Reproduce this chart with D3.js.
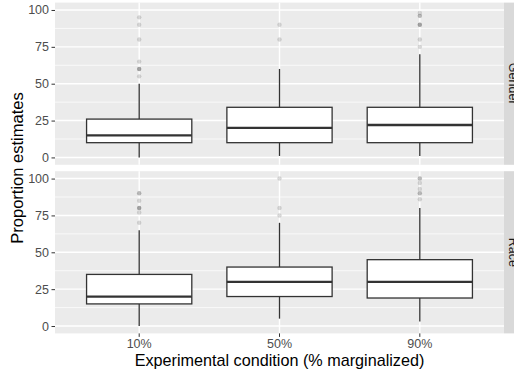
<!DOCTYPE html>
<html>
<head>
<meta charset="utf-8">
<script src="https://cdn.jsdelivr.net/npm/d3@7"></script>
<style>
body { margin: 0; background: #fff; }
svg { display: block; font-family: "Liberation Sans", Arial, sans-serif; }
</style>
</head>
<body>
<svg id="chart" width="514" height="373"></svg>
<script>
// categories and facets
var conditions = ["10%", "50%", "90%"];
var facets = ["Gender", "Race"];
var yTicks = [0, 25, 50, 75, 100];
var yMinor = [12.5, 37.5, 62.5, 87.5];

// box stats per facet: [lowerWhisker, q1, median, q3, upperWhisker]
var genderStats = [[0, 10, 15, 26, 50], [1, 10, 20, 34, 60], [1, 10, 22, 34, 70]];
var raceStats = [[0, 15, 20, 35, 65], [5, 20, 30, 40, 70], [3, 19, 30, 45, 80]];

// outliers: [value, number of overlapping points]
var genderOutliers = [
    [[95, 1], [90, 1], [80, 1], [65, 1], [60, 3], [55, 1]],
    [[90, 1], [80, 1]],
    [[98, 1], [96, 2], [90, 3], [80, 1], [75, 1]]
];
var raceOutliers = [
    [[90, 2], [85, 1], [80, 3], [77, 1], [70, 1]],
    [[100, 1], [80, 1], [75, 1]],
    [[100, 2], [97, 1], [93, 1], [90, 2], [86, 1]]
];

var statsByFacet = [genderStats, raceStats];
var outliersByFacet = [genderOutliers, raceOutliers];

var svg = d3.select("#chart");

//Define panel boundaries
var left = 55, right = 504, stripW = 21;
var panelTops = [2.6, 171.2], panelH = 162.2;

// ggplot discrete expansion: 0.6 units each side
var x = d3.scalePoint()
    .domain(conditions)
    .range([left, right])
    .padding(0.6);
var unit = x.step();
function cx(d) { return x(d); }
var boxW = unit * 0.75;

facets.forEach(function (facet, fi) {
    var top = panelTops[fi];
    var y = d3.scaleLinear()
        .domain([-5, 105])
        .range([top + panelH, top]);

    var g = svg.append("g");

    g.append("rect")
        .attr("x", left).attr("y", top)
        .attr("width", right - left).attr("height", panelH)
        .attr("fill", "#ebebeb");

    //minor grid
    g.selectAll(".minor").data(yMinor).enter().append("line")
        .attr("x1", left).attr("x2", right)
        .attr("y1", function (d) { return y(d); })
        .attr("y2", function (d) { return y(d); })
        .attr("stroke", "#fff").attr("stroke-width", 0.7);

    //major grid
    g.selectAll(".major").data(yTicks).enter().append("line")
        .attr("x1", left).attr("x2", right)
        .attr("y1", function (d) { return y(d); })
        .attr("y2", function (d) { return y(d); })
        .attr("stroke", "#fff").attr("stroke-width", 1.4);

    g.selectAll(".vmajor").data(conditions).enter().append("line")
        .attr("x1", cx).attr("x2", cx)
        .attr("y1", top).attr("y2", top + panelH)
        .attr("stroke", "#fff").attr("stroke-width", 1.4);

    //y axis
    var axis = g.append("g")
        .attr("transform", "translate(" + left + ",0)")
        .call(d3.axisLeft(y).tickValues(yTicks).tickSize(3.5).tickPadding(2.5));
    axis.select(".domain").remove();
    axis.selectAll(".tick line").attr("stroke", "#333").attr("stroke-width", 1);
    axis.selectAll(".tick text").attr("fill", "#4d4d4d")
        .style("font-family", "Liberation Sans, Arial, sans-serif")
        .style("font-size", "12.5px");

    //strip
    g.append("rect")
        .attr("x", right).attr("y", top)
        .attr("width", stripW).attr("height", panelH)
        .attr("fill", "#d9d9d9");
    g.append("text")
        .attr("transform", "translate(" + (right + stripW / 2 - 1) + "," + (top + panelH / 2) + ") rotate(90)")
        .attr("text-anchor", "middle")
        .attr("dy", "0.35em")
        .attr("fill", "#1a1a1a")
        .style("font-size", "12.5px")
        .text(facet);

    var stats = statsByFacet[fi];
    var outs = outliersByFacet[fi];

    conditions.forEach(function (c, ci) {
        var s = stats[ci];
        var xc = cx(c);
        var bg = g.append("g");

        // outliers
        bg.selectAll("circle").data(outs[ci]).enter().append("circle")
            .attr("cx", xc)
            .attr("cy", function (d) { return y(d[0]); })
            .attr("r", 2.2)
            .attr("fill", "#333")
            .attr("fill-opacity", function (d) { return 1 - Math.pow(0.82, d[1]); });

        // whiskers
        bg.append("line")
            .attr("x1", xc).attr("x2", xc)
            .attr("y1", y(s[4])).attr("y2", y(s[3]))
            .attr("stroke", "#333").attr("stroke-width", 1.3);
        bg.append("line")
            .attr("x1", xc).attr("x2", xc)
            .attr("y1", y(s[1])).attr("y2", y(s[0]))
            .attr("stroke", "#333").attr("stroke-width", 1.3);

        // box
        bg.append("rect")
            .attr("x", xc - boxW / 2).attr("y", y(s[3]))
            .attr("width", boxW).attr("height", y(s[1]) - y(s[3]))
            .attr("fill", "#fff")
            .attr("stroke", "#333").attr("stroke-width", 1.3);

        // median
        bg.append("line")
            .attr("x1", xc - boxW / 2).attr("x2", xc + boxW / 2)
            .attr("y1", y(s[2])).attr("y2", y(s[2]))
            .attr("stroke", "#333").attr("stroke-width", 2.3);
    });
});

//x axis at bottom panel
var bottom = panelTops[1] + panelH;
var xa = svg.append("g");
xa.selectAll("line").data(conditions).enter().append("line")
    .attr("x1", cx).attr("x2", cx)
    .attr("y1", bottom).attr("y2", bottom + 3.5)
    .attr("stroke", "#333");
xa.selectAll("text").data(conditions).enter().append("text")
    .attr("x", cx)
    .attr("y", bottom + 15)
    .attr("text-anchor", "middle")
    .attr("fill", "#4d4d4d")
    .style("font-size", "12.5px")
    .text(function (d) { return d; });

//axis titles
svg.append("text")
    .attr("x", (left + right) / 2)
    .attr("y", 366)
    .attr("text-anchor", "middle")
    .attr("fill", "#000")
    .style("font-size", "16.2px")
    .text("Experimental condition (% marginalized)");

svg.append("text")
    .attr("transform", "translate(23," + ((panelTops[0] + bottom) / 2) + ") rotate(-90)")
    .attr("text-anchor", "middle")
    .attr("fill", "#000")
    .style("font-size", "16.5px")
    .text("Proportion estimates");
</script>
</body>
</html>
